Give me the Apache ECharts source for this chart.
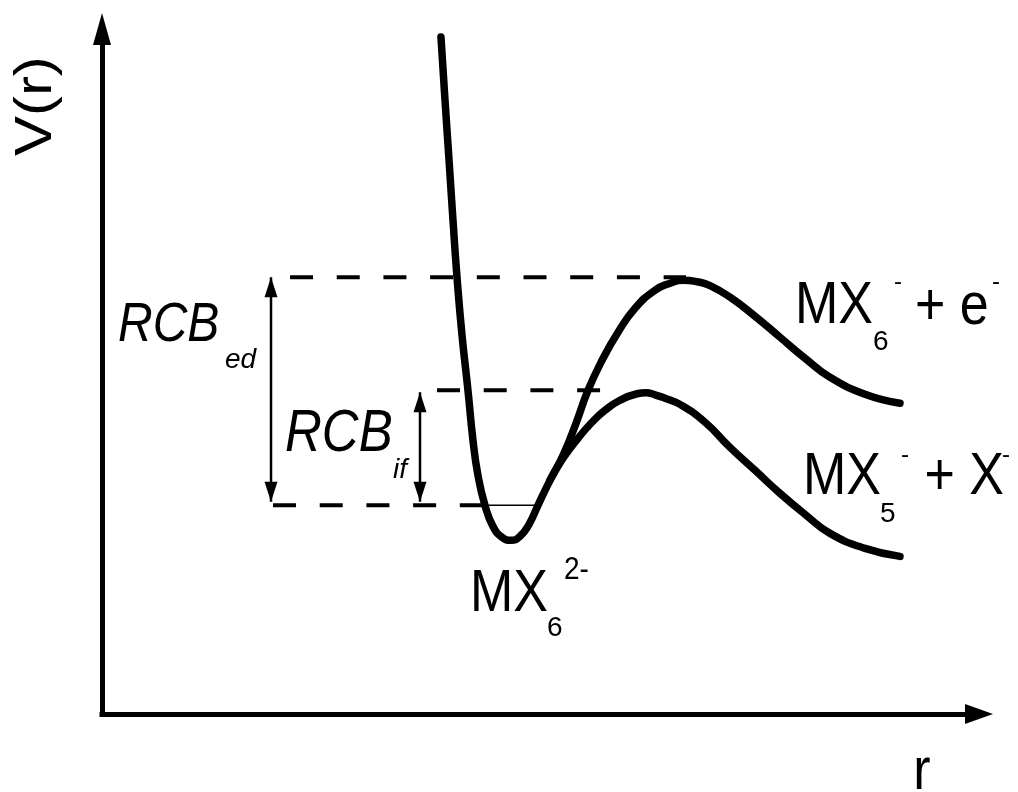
<!DOCTYPE html>
<html>
<head>
<meta charset="utf-8">
<script src="https://cdn.jsdelivr.net/npm/echarts@6/dist/echarts.min.js"></script>
<style>
  html, body { margin: 0; padding: 0; background: #fff; }
  #chart { width: 1018px; height: 792px; }
</style>
</head>
<body>
<div id="chart"></div>
<script>
// schematic potential curves, arbitrary units (r and V both run 0..10)
// MX6^2- well going over to MX6^- + e^-
const upperR = [3.865, 3.911, 3.957, 4.002, 4.048, 4.105, 4.173, 4.230, 4.287, 4.367, 4.458,
  4.561, 4.664, 4.766, 4.869, 4.971, 5.108, 5.257, 5.405, 5.542, 5.702, 5.884, 6.078, 6.306,
  6.477, 6.625, 6.784, 6.933, 7.161, 7.446, 7.731, 8.016, 8.301, 8.700, 9.099];
const upperV = [9.883, 8.963, 8.086, 7.210, 6.377, 5.530, 4.726, 3.996, 3.484, 3.046, 2.739,
  2.579, 2.535, 2.593, 2.768, 3.046, 3.411, 3.776, 4.244, 4.726, 5.164, 5.573, 5.924, 6.187,
  6.289, 6.333, 6.311, 6.255, 6.085, 5.807, 5.500, 5.194, 4.916, 4.668, 4.536];
// branch to MX5^- + X^-
const lowerR = [5.108, 5.257, 5.428, 5.587, 5.735, 5.906, 6.100, 6.203, 6.306, 6.420, 6.591,
  6.876, 7.161, 7.446, 7.731, 8.016, 8.301, 8.700, 9.099];
const lowerV = [3.411, 3.733, 4.025, 4.259, 4.434, 4.580, 4.675, 4.690, 4.660, 4.609, 4.520,
  4.259, 3.893, 3.557, 3.221, 2.915, 2.637, 2.418, 2.301];

// energy levels and where the guide lines run
const levelEd = 6.377;
const levelIf = 4.726;
const levelBase = 3.046;
const edLineR = [2.144, 6.659];
const ifLineR = [3.820, 5.679];
const baseDashR = [1.950, 4.344];
const baseThinR = [4.344, 4.994];

// RCB arrows: r position, top tip, bottom tip
const edArrow = [1.927, 6.377, 3.10];
const ifArrow = [3.626, 4.697, 3.10];

// label texts
const axisNames = ['V(r)', 'r'];
const labelEd = ['RCB', 'ed'];
const labelIf = ['RCB', 'if'];
const labelUpper = ['MX', '6', '-', '+ e', '-'];
const labelLower = ['MX', '5', '-', '+ X', '-'];
const labelWell = ['MX', '6', '2-'];

function pairs(xs, ys) {
  return xs.map(function (x, i) { return [x, ys[i]]; });
}

function hLine(range, y) {
  return [[range[0], y], [range[1], y]];
}

function doubleArrow(a) {
  return [
    { value: [a[0], a[1]], symbolRotate: 0, symbolOffset: [0, 10] },
    { value: [a[0], a[2]], symbolRotate: 180, symbolOffset: [0, -10] }
  ];
}

const dashStyle = { color: '#000', width: 4, type: [23, 23.7], cap: 'butt' };
const curveStyle = { color: '#000', width: 7.5, cap: 'round', join: 'round' };

const option = {
  animation: false,
  backgroundColor: '#fff',
  grid: { left: 102, right: 39, top: 29, bottom: 78 },
  xAxis: {
    type: 'value', min: 0, max: 10,
    axisLine: {
      onZero: false, symbol: ['none', 'triangle'], symbolSize: [20, 28],
      lineStyle: { color: '#000', width: 5, cap: 'square' }
    },
    axisTick: { show: false }, axisLabel: { show: false }, splitLine: { show: false }
  },
  yAxis: {
    type: 'value', min: 0, max: 10,
    axisLine: {
      onZero: false, symbol: ['none', 'triangle'], symbolSize: [18, 32],
      lineStyle: { color: '#000', width: 5, cap: 'square' }
    },
    axisTick: { show: false }, axisLabel: { show: false }, splitLine: { show: false }
  },
  series: [
    { type: 'line', data: hLine(edLineR, levelEd), symbol: 'none', lineStyle: dashStyle, z: 2 },
    { type: 'line', data: hLine(ifLineR, levelIf), symbol: 'none', lineStyle: dashStyle, z: 2 },
    { type: 'line', data: hLine(baseDashR, levelBase), symbol: 'none', lineStyle: dashStyle, z: 2 },
    { type: 'line', data: hLine(baseThinR, levelBase), symbol: 'none',
      lineStyle: { color: '#000', width: 1.5 }, z: 2 },
    { type: 'line', data: doubleArrow(edArrow), symbol: 'triangle', symbolSize: [13, 20],
      itemStyle: { color: '#000', borderWidth: 0 }, lineStyle: { color: '#000', width: 2.5 }, z: 3 },
    { type: 'line', data: doubleArrow(ifArrow), symbol: 'triangle', symbolSize: [13, 20],
      itemStyle: { color: '#000', borderWidth: 0 }, lineStyle: { color: '#000', width: 2.5 }, z: 3 },
    { type: 'line', data: pairs(lowerR, lowerV), symbol: 'none', smooth: 0.5,
      lineStyle: curveStyle, z: 4 },
    { type: 'line', data: pairs(upperR, upperV), symbol: 'none', smooth: 0.5,
      lineStyle: curveStyle, z: 5 }
  ]
};

const chart = echarts.init(document.getElementById('chart'));
chart.setOption(option);

function px(r, v) {
  return chart.convertToPixel({ gridIndex: 0 }, [r, v]);
}

function piece(p, text, dx, dy, size, italic, sy) {
  const font = (italic ? 'italic ' : '') + size + 'px "Liberation Sans", Arial, sans-serif';
  return {
    type: 'text', x: p[0] + dx, y: p[1] + dy, scaleY: sy === undefined ? 1.15 : sy,
    style: {
      text: text, font: font, fill: '#000',
      align: 'left', verticalAlign: 'middle', textAlign: 'left', textVerticalAlign: 'middle'
    }
  };
}

// label anchors (start of main text, cap centre)
const pV = px(-0.741, 8.875);
const pR = px(9.350, -0.855);
const pEd = px(0.182, 5.676);
const pIf = px(2.087, 4.083);
const pUp = px(7.902, 5.946);
const pLo = px(7.993, 3.455);
const pWell = px(4.196, 1.746);

const texts = [
  {
    type: 'text', x: pV[0], y: pV[1], rotation: Math.PI / 2, scaleX: 1.15,
    style: {
      text: axisNames[0], font: '52px "Liberation Sans", Arial, sans-serif', fill: '#000',
      align: 'center', verticalAlign: 'middle', textAlign: 'center', textVerticalAlign: 'middle'
    }
  },
  {
    type: 'text', x: pR[0], y: pR[1], scaleY: 1.15,
    style: {
      text: axisNames[1], font: '52px "Liberation Sans", Arial, sans-serif', fill: '#000',
      align: 'center', verticalAlign: 'middle', textAlign: 'center', textVerticalAlign: 'middle'
    }
  },
  piece(pEd, labelEd[0], 0, 0, 48, true),
  piece(pEd, labelEd[1], 107, 35, 28, true, 1),
  piece(pIf, labelIf[0], 0, 0, 51, true),
  piece(pIf, labelIf[1], 108, 36, 28, true, 1),
  piece(pUp, labelUpper[0], 0, 0, 52, false),
  piece(pUp, labelUpper[1], 78, 35.5, 28, false, 1),
  piece(pUp, labelUpper[2], 99, -24.5, 24, false, 1),
  piece(pUp, labelUpper[3], 120, 1, 52, false),
  piece(pUp, labelUpper[4], 197, -24.5, 24, false, 1),
  piece(pLo, labelLower[0], 0, 0, 52, false),
  piece(pLo, labelLower[1], 77, 37, 28, false, 1),
  piece(pLo, labelLower[2], 98, -22, 24, false, 1),
  piece(pLo, labelLower[3], 121.5, 0, 52, false),
  piece(pLo, labelLower[4], 199, -22, 24, false, 1),
  piece(pWell, labelWell[0], 0, 0, 52, false),
  piece(pWell, labelWell[1], 77, 34, 28, false, 1),
  piece(pWell, labelWell[2], 94, -24, 28, false)
];

chart.setOption({ graphic: { elements: texts } });
</script>
</body>
</html>
